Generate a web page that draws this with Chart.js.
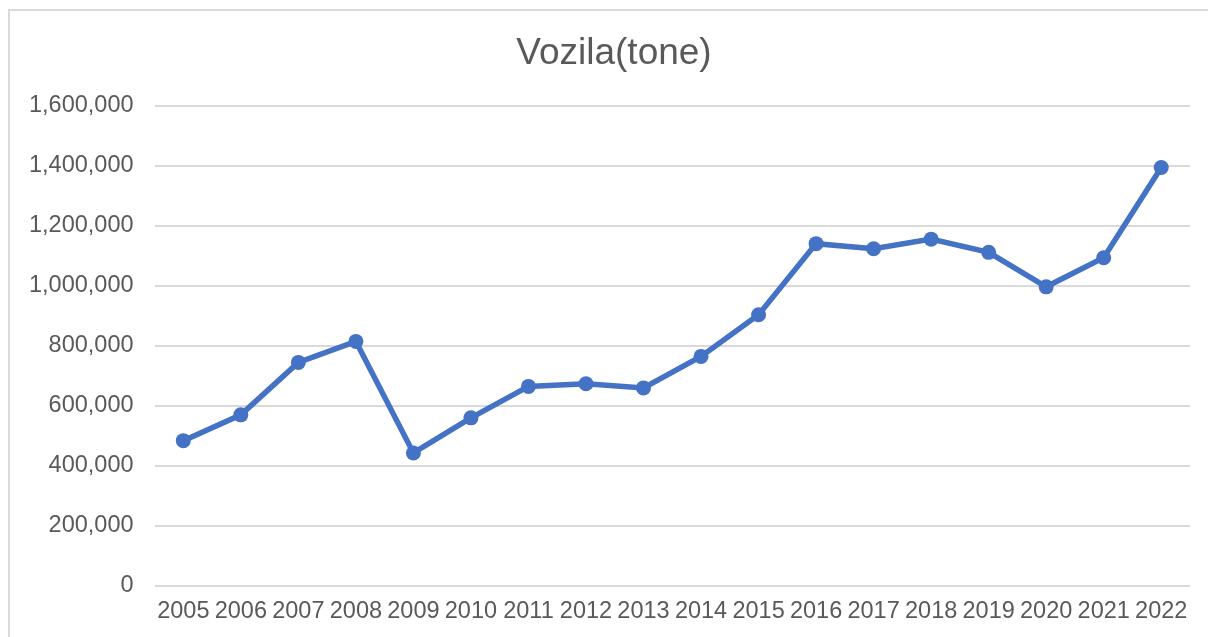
<!DOCTYPE html>
<html>
<head>
<meta charset="utf-8">
<script src="https://cdn.jsdelivr.net/npm/chart.js@4"></script>
<style>
    html, body { margin: 0; padding: 0; background: #fff; overflow: hidden; }
    #okvir {
        position: absolute; left: 8px; top: 9px;
        width: 1400px; height: 800px;
        border: 2px solid #d9d9d9;
    }
    #graficoVozila { position: absolute; left: 0; top: 0; }
</style>
</head>
<body>
<div id="okvir"></div>
<canvas id="graficoVozila" width="1208" height="637"></canvas>
<script>
const naslov = "Vozila(tone)";
const godine = [
    "2005", "2006", "2007", "2008", "2009", "2010", "2011", "2012", "2013",
    "2014", "2015", "2016", "2017", "2018", "2019", "2020", "2021", "2022"
];
const tone = [
    484000, 570000, 745000, 815000, 443000, 560000, 665000, 674000, 660000,
    765000, 904000, 1141000, 1124000, 1156000, 1112000, 997000, 1094000, 1395000
];
const yMin = 0;
const yMax = 1600000;
const yKorak = 200000;

const sivo = "#595959";
const fontTick = { family: "'Liberation Sans', Arial, sans-serif", size: 23.5 };

// naslov je centriran na okvir, ne na canvas
const naslovPlugin = {
    id: "naslov",
    afterDraw(chart) {
        const c = chart.ctx;
        c.save();
        c.fillStyle = sivo;
        c.font = "37px 'Liberation Sans', Arial, sans-serif";
        c.textAlign = "center";
        c.textBaseline = "middle";
        c.fillText(naslov, 614, 54);
        c.restore();
    }
};

const ctx = document.getElementById("graficoVozila").getContext("2d");
new Chart(ctx, {
    type: "line",
    data: {
        labels: godine,
        datasets: [{
            label: naslov,
            data: tone,
            borderColor: "#4472c4",
            backgroundColor: "#4472c4",
            borderWidth: 5.5,
            pointRadius: 7.5,
            pointHoverRadius: 7.5,
            pointBorderWidth: 0,
            tension: 0
        }]
    },
    plugins: [naslovPlugin],
    options: {
        responsive: false,
        maintainAspectRatio: false,
        animation: false,
        layout: { padding: { left: 8, right: 18, top: 106, bottom: 7 } },
        plugins: {
            legend: { display: false },
            tooltip: { enabled: false },
            title: { display: false }
        },
        scales: {
            x: {
                offset: true,
                grid: { display: false },
                border: { display: false },
                ticks: { color: sivo, font: fontTick, padding: 4, maxRotation: 0, autoSkip: false }
            },
            y: {
                min: yMin,
                max: yMax,
                border: { display: false },
                grid: { color: "#d9d9d9", lineWidth: 2, drawTicks: false },
                ticks: {
                    stepSize: yKorak,
                    color: sivo,
                    font: fontTick,
                    padding: 21,
                    callback: v => v.toLocaleString("en-US")
                }
            }
        }
    }
});
</script>
</body>
</html>
